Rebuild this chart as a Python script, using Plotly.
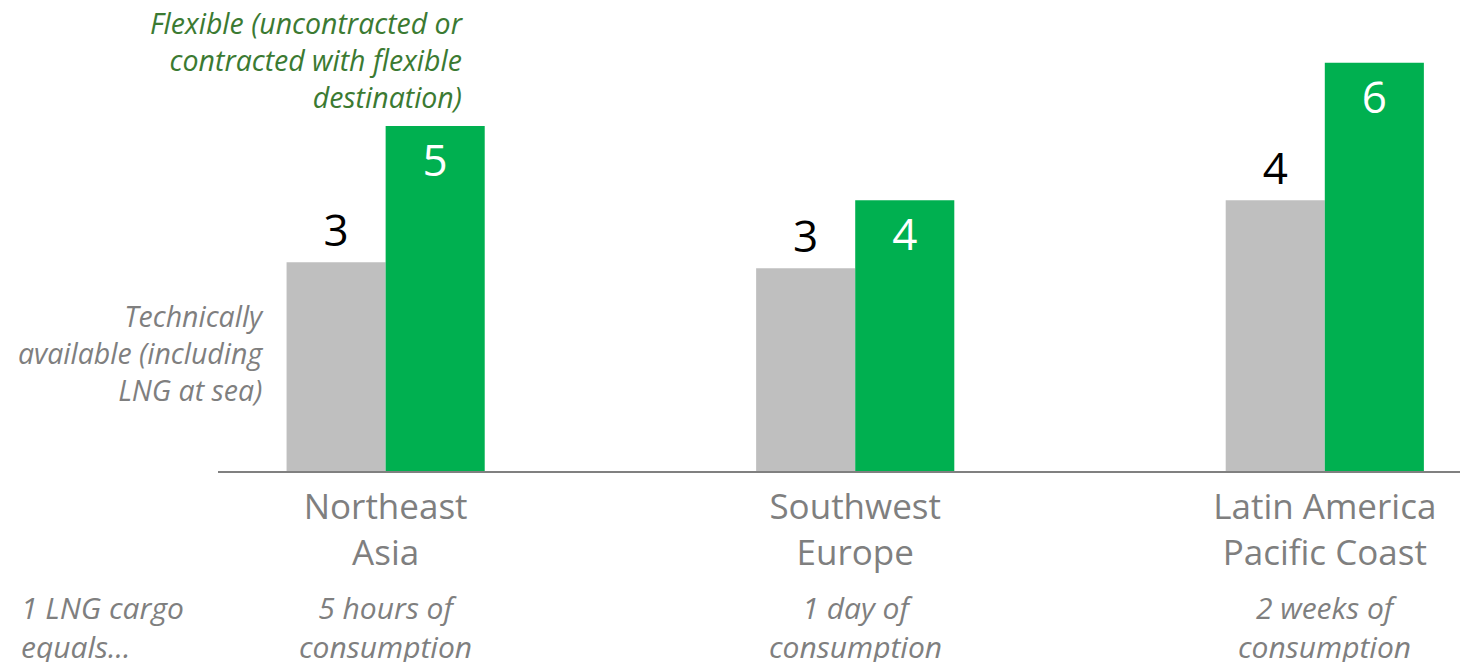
import plotly.graph_objects as go

categories = ["Northeast<br>Asia", "Southwest<br>Europe", "Latin America<br>Pacific Coast"]
technically_available = [3.07, 2.98, 3.98]
flexible = [5.07, 3.98, 6.00]
tech_labels = ["3", "3", "4"]
flex_labels = ["5", "4", "6"]
consumption = ["5 hours of<br>consumption", "1 day of<br>consumption", "2 weeks of<br>consumption"]

FONT = "Open Sans"
GREY_TXT = "#7F7F7F"

fig = go.Figure()
fig.add_trace(go.Bar(
    x=categories, y=technically_available, name="Technically available",
    marker=dict(color="#BFBFBF", line=dict(width=0)),
    text=tech_labels, textposition="outside",
    textfont=dict(family=FONT, size=44, color="#000000"),
    cliponaxis=False,
))
fig.add_trace(go.Bar(
    x=categories, y=flexible, name="Flexible",
    marker=dict(color="#00B050", line=dict(width=0)),
    text=flex_labels, textposition="inside", insidetextanchor="end",
    textfont=dict(family=FONT, size=44, color="#FFFFFF"),
    cliponaxis=False,
))

annotations = []
for c, t in zip(categories, consumption):
    annotations.append(dict(
        x=c, xref="x", y=-0.345, yref="paper", text="<i>" + t + "</i>",
        showarrow=False, xanchor="center", yanchor="middle", align="center",
        font=dict(family=FONT, size=30, color=GREY_TXT),
    ))
annotations.append(dict(
    x=-0.1582, xref="paper", y=-0.345, yref="paper",
    text="<i>1 LNG cargo<br>equals...</i>", showarrow=False,
    xanchor="left", yanchor="middle", align="left",
    font=dict(family=FONT, size=30, color=GREY_TXT),
))
annotations.append(dict(
    x=0.197, xref="paper", y=0.911, yref="paper",
    text="<i>Flexible (uncontracted or<br>contracted with flexible<br>destination)</i>",
    showarrow=False, xanchor="right", yanchor="middle", align="right",
    font=dict(family=FONT, size=28.5, color="#3B7A32"),
))
annotations.append(dict(
    x=0.0382, xref="paper", y=0.2616, yref="paper",
    text="<i>Technically<br>available (including<br>LNG at sea)</i>",
    showarrow=False, xanchor="right", yanchor="middle", align="right",
    font=dict(family=FONT, size=28.5, color=GREY_TXT),
))

fig.update_layout(
    width=1468, height=662,
    margin=dict(l=210, r=0, t=12, b=199),
    paper_bgcolor="white", plot_bgcolor="white",
    barmode="group", bargap=0.578, bargroupgap=0.0,
    showlegend=False,
    annotations=annotations,
    font=dict(family=FONT),
)
fig.update_xaxes(
    range=[-0.357, 2.322], showline=True, linecolor="#808080", linewidth=2,
    ticks="", showgrid=False, zeroline=False,
    tickfont=dict(family=FONT, size=35, color=GREY_TXT),
    ticklabelstandoff=4,
)
fig.update_yaxes(range=[0, 6.63], visible=False, showgrid=False, zeroline=False)

fig.write_html("out.html")
